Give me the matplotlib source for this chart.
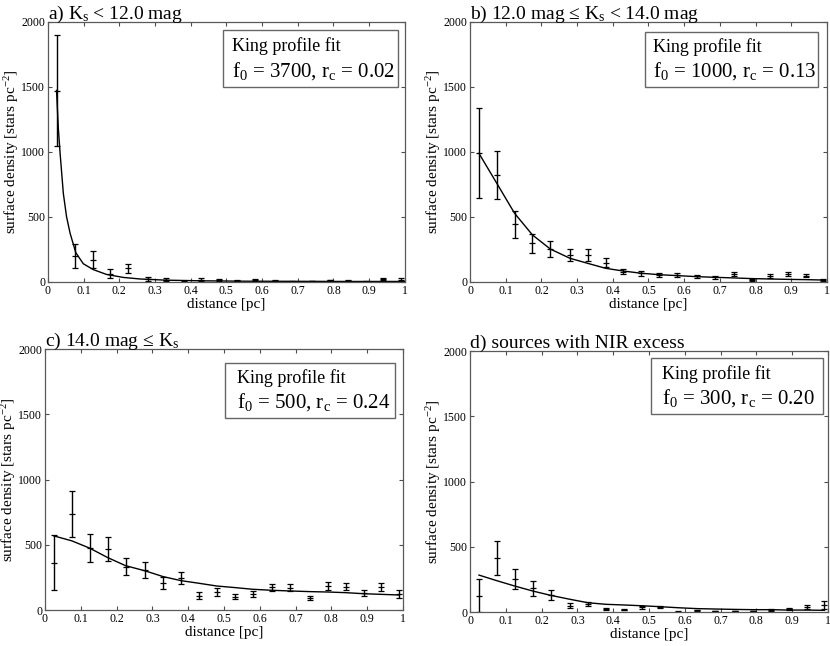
import matplotlib
matplotlib.use("Agg")
import matplotlib.pyplot as plt
from matplotlib.patches import Rectangle

plt.rcParams['font.family'] = ['Liberation Serif', 'DejaVu Serif']
plt.rcParams['mathtext.fontset'] = 'custom'
plt.rcParams['mathtext.rm'] = 'Liberation Serif'
plt.rcParams['mathtext.it'] = 'Liberation Serif:italic'
plt.rcParams['mathtext.default'] = 'regular'

# radial bin centres [pc]
distance = [0.025, 0.075, 0.125, 0.175, 0.225, 0.28, 0.33, 0.38, 0.43, 0.48,
            0.53, 0.58, 0.635, 0.685, 0.74, 0.79, 0.84, 0.89, 0.94, 0.99]

# a) Ks < 12.0 mag
dens_a = [1470, 200, 170, 65, 105, 20, 18, 2, 18, 13, 10, 15, 10, 2, 5, 12, 10, 2, 23, 18]
err_a = [425, 90, 65, 33, 36, 15, 12, 2, 10, 8, 5, 8, 5, 2, 3, 6, 5, 2, 10, 10]
fit_x_a = [0.024, 0.029, 0.034, 0.043, 0.052, 0.062, 0.078, 0.099, 0.127, 0.164,
           0.211, 0.258, 0.33, 0.43, 0.55, 0.7, 0.85, 1.0]
fit_y_a = [1472, 1180, 988, 681, 502, 374, 225, 140, 95, 58, 35, 23, 14, 9, 6, 5, 4, 4]

# b) 12.0 mag <= Ks < 14.0 mag
dens_b = [990, 822, 443, 297, 251, 210, 207, 148, 79, 67, 54, 54, 44, 36, 64, 13, 46, 59, 49, 13]
err_b = [345, 182, 105, 72, 61, 46, 45, 36, 20, 18, 14, 15, 12, 10, 16, 8, 13, 15, 13, 8]
fit_y_b = [988, 758, 527, 361, 253, 182, 143, 105, 84, 67, 56, 49, 41, 36, 31, 26, 23, 20, 18, 15]

# c) 14.0 mag <= Ks
dens_c = [364, 735, 474, 468, 333, 307, 205, 243, 110, 138, 102, 123, 174, 172, 92, 184, 177, 128, 174, 123]
err_c = [211, 174, 109, 91, 66, 58, 46, 45, 25, 29, 20, 25, 27, 24, 15, 28, 27, 22, 30, 30]
fit_y_c = [568, 530, 474, 402, 340, 300, 256, 225, 205, 184, 172, 159, 151, 146, 141, 138, 133, 125, 120, 115]

# d) sources with NIR excess
dens_d = [125, 416, 250, 181, 130, 48, 59, 23, 18, 36, 36, 2, 13, 8, 8, 8, 15, 23, 36, 54]
err_d = [125, 130, 76, 55, 38, 18, 15, 8, 6, 10, 9, 2, 5, 3, 3, 3, 5, 9, 14, 28]
fit_y_d = [283, 240, 199, 161, 128, 97, 71, 59, 54, 48, 41, 33, 26, 23, 20, 18, 18, 15, 15, 13]

titles = [r'a) K$_\mathrm{s}$ < 12.0 mag',
          r'b) 12.0 mag ≤ K$_\mathrm{s}$ < 14.0 mag',
          r'c) 14.0 mag ≤ K$_\mathrm{s}$',
          'd) sources with NIR excess']
fit_labels = [r'f$_0$ = 3700, r$_\mathrm{c}$ = 0.02',
              r'f$_0$ = 1000, r$_\mathrm{c}$ = 0.13',
              r'f$_0$ = 500, r$_\mathrm{c}$ = 0.24',
              r'f$_0$ = 300, r$_\mathrm{c}$ = 0.20']

panels = [
    (dens_a, err_a, fit_x_a, fit_y_a),
    (dens_b, err_b, distance, fit_y_b),
    (dens_c, err_c, distance, fit_y_c),
    (dens_d, err_d, distance, fit_y_d),
]

axes_pos = [
    [0.0578, 0.5635, 0.430, 0.403],
    [0.5663, 0.5635, 0.430, 0.403],
    [0.0542, 0.0557, 0.4313, 0.404],
    [0.5663, 0.0526, 0.4313, 0.404],
]
# box (x0, y0, x1, y1) in axes coords, text left
boxes = [
    (0.49, 0.749, 0.98, 0.968, 0.515),
    (0.49, 0.750, 0.975, 0.960, 0.513),
    (0.503, 0.736, 0.978, 0.947, 0.536),
    (0.506, 0.759, 0.985, 0.973, 0.536),
]

fig = plt.figure(figsize=(8.3, 6.46), dpi=100)
for i, (dens, err, fx, fy) in enumerate(panels):
    ax = fig.add_axes(axes_pos[i])
    ax.errorbar(distance, dens, yerr=err, fmt='_', color='black', ecolor='black',
                elinewidth=1.0, capsize=2.2, capthick=0.9, markersize=4, mew=0.9)
    ax.plot(fx, fy, color='black', lw=1.0)
    ax.set_xlim(0, 1)
    ax.set_ylim(0, 2000)
    ax.set_xticks([0, 0.1, 0.2, 0.3, 0.4, 0.5, 0.6, 0.7, 0.8, 0.9, 1.0])
    ax.set_xticklabels(['0', '0.1', '0.2', '0.3', '0.4', '0.5', '0.6', '0.7', '0.8', '0.9', '1'])
    ax.set_yticks([0, 500, 1000, 1500, 2000])
    ax.tick_params(direction='in', top=True, right=True, length=3, width=0.8,
                   labelsize=8.5, pad=2, color='0.3')
    for s in ax.spines.values():
        s.set_color('0.35')
        s.set_linewidth(0.9)
    ax.set_xlabel('distance [pc]', fontsize=11, labelpad=1)
    ax.set_ylabel(r'surface density [stars pc$^{-2}$]', fontsize=11, labelpad=0)
    ax.set_title(titles[i], loc='left', fontsize=14, pad=2)
    x0, y0, x1, y1, tx = boxes[i]
    ax.add_patch(Rectangle((x0, y0), x1 - x0, y1 - y0, transform=ax.transAxes,
                           facecolor='white', edgecolor='0.4', lw=1.0, zorder=5))
    ax.text(tx, y0 + (y1 - y0) * 0.72, 'King profile fit', transform=ax.transAxes,
            fontsize=13, va='center', ha='left', zorder=6)
    ax.text(tx, y0 + (y1 - y0) * 0.28, fit_labels[i], transform=ax.transAxes,
            fontsize=15, va='center', ha='left', zorder=6)

fig.savefig('out.png', dpi=100)
